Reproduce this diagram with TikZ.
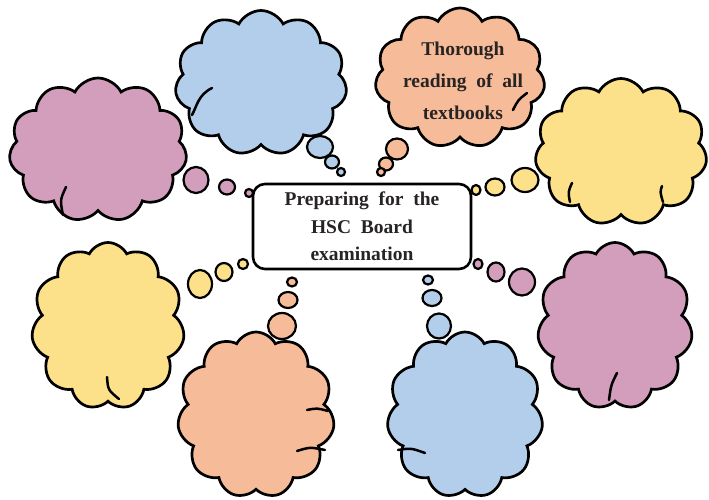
\documentclass[tikz,border=0pt]{standalone}
\usepackage{fontspec}
\setmainfont{Liberation Serif}
\usetikzlibrary{shapes.symbols,shapes.geometric}
\definecolor{cpurple}{RGB}{210,158,188}
\definecolor{cblue}{RGB}{178,206,234}
\definecolor{corange}{RGB}{246,187,152}
\definecolor{cyellow}{RGB}{252,225,138}
\definecolor{txt}{RGB}{40,36,36}
\tikzset{
  thought/.style={cloud, draw=black, line width=2.7pt, inner sep=0pt, cloud ignores aspect, cloud puff arc=125},
  bubble/.style={ellipse, draw=black, line width=2.2pt, inner sep=0pt},
  hook/.style={draw=black, line width=2.5pt, line cap=round},
  lbl/.style={font=\fontsize{19.5}{27.5}\selectfont\bfseries, text=txt, align=center},
}
\begin{document}
\begin{tikzpicture}[x=1pt,y=-1pt]
\useasboundingbox (0,0) rectangle (709,500);
% clouds
\node[thought, fill=cpurple, cloud puffs=11, minimum width=178pt, minimum height=144pt] (c1) at (98,150) {};
\node[thought, fill=cblue, cloud puffs=11, minimum width=172pt, minimum height=145pt] (c2) at (261,83) {};
\node[thought, fill=corange, cloud puffs=11, minimum width=170pt, minimum height=140pt] (c3) at (460,78) {};
\node[thought, fill=cyellow, cloud puffs=11, minimum width=172pt, minimum height=147pt] (c4) at (621,152) {};
\node[thought, fill=cyellow, cloud puffs=11, minimum width=153pt, minimum height=167pt] (c5) at (108,326) {};
\node[thought, fill=corange, cloud puffs=11, minimum width=157pt, minimum height=166pt] (c6) at (256,415) {};
\node[thought, fill=cblue, cloud puffs=11, minimum width=156pt, minimum height=166pt] (c7) at (465,415) {};
\node[thought, fill=cpurple, cloud puffs=11, minimum width=155pt, minimum height=167pt] (c8) at (615,326) {};
% inner hooks of the clouds
\draw[hook] (63,215) .. controls (60,200) .. (66,187);
\draw[hook] (212,88) .. controls (198,95) and (197,106) .. (192,115);
\draw[hook] (527,93) .. controls (518,100) .. (513,110);
\draw[hook] (570,202) .. controls (568,192) .. (572,183);
\draw[hook] (663,202) .. controls (660,192) .. (662,186);
\draw[hook] (107,377) .. controls (108,390) .. (119,399);
\draw[hook] (297,451) .. controls (310,447) .. (325,450);
\draw[hook] (307,410) .. controls (317,408) .. (328,411);
\draw[hook] (398,450) .. controls (411,448) .. (425,453);
\draw[hook] (617,373) .. controls (611,385) .. (609,400);
% text in top-right cloud
\node[lbl, font=\fontsize{19.5}{32}\selectfont\bfseries] (t3) at (463,81) {Thorough\\reading\ \ of\ \ all\\textbooks};
% centre box
\node[draw=black, line width=2.6pt, rounded corners=12pt, fill=white, minimum width=218pt, minimum height=85pt, lbl] (box) at (362,226.5) {Preparing\ \ for\ \ the\\HSC\ \ Board\\examination};
% bubbles
\node[bubble, fill=cpurple, minimum width=25pt, minimum height=26pt] (b1a) at (196,180) {};
\node[bubble, fill=cpurple, minimum width=16pt, minimum height=15pt] (b1b) at (227,187) {};
\node[bubble, fill=cpurple, minimum width=8pt, minimum height=8pt] (b1c) at (249,193) {};
\node[bubble, fill=cblue, minimum width=26pt, minimum height=22pt] (b2a) at (320,147) {};
\node[bubble, fill=cblue, minimum width=14pt, minimum height=13pt] (b2b) at (332,162) {};
\node[bubble, fill=cblue, minimum width=8pt, minimum height=8pt] (b2c) at (341,172) {};
\node[bubble, fill=corange, minimum width=22pt, minimum height=21pt] (b3a) at (397,149) {};
\node[bubble, fill=corange, minimum width=14pt, minimum height=13pt] (b3b) at (386,164) {};
\node[bubble, fill=corange, minimum width=8pt, minimum height=8pt] (b3c) at (381,172) {};
\node[bubble, fill=cyellow, minimum width=27pt, minimum height=24pt] (b4a) at (525,180) {};
\node[bubble, fill=cyellow, minimum width=19pt, minimum height=17pt] (b4b) at (495,187) {};
\node[bubble, fill=cyellow, minimum width=9pt, minimum height=10pt] (b4c) at (476,190) {};
\node[bubble, fill=cyellow, minimum width=24pt, minimum height=28pt] (b5a) at (200,284) {};
\node[bubble, fill=cyellow, minimum width=17pt, minimum height=18pt] (b5b) at (224,272) {};
\node[bubble, fill=cyellow, minimum width=10pt, minimum height=10pt] (b5c) at (243,264) {};
\node[bubble, fill=corange, minimum width=28pt, minimum height=26pt] (b6a) at (282,326) {};
\node[bubble, fill=corange, minimum width=19pt, minimum height=16pt] (b6b) at (288,300) {};
\node[bubble, fill=corange, minimum width=10pt, minimum height=9pt] (b6c) at (292,282) {};
\node[bubble, fill=cblue, minimum width=24pt, minimum height=25pt] (b7a) at (439,326) {};
\node[bubble, fill=cblue, minimum width=19pt, minimum height=16pt] (b7b) at (432,298) {};
\node[bubble, fill=cblue, minimum width=10pt, minimum height=9pt] (b7c) at (428,280) {};
\node[bubble, fill=cpurple, minimum width=26pt, minimum height=27pt] (b8a) at (522,282) {};
\node[bubble, fill=cpurple, minimum width=17pt, minimum height=19pt] (b8b) at (496,272) {};
\node[bubble, fill=cpurple, minimum width=9pt, minimum height=10pt] (b8c) at (478,264) {};
\end{tikzpicture}
\end{document}
